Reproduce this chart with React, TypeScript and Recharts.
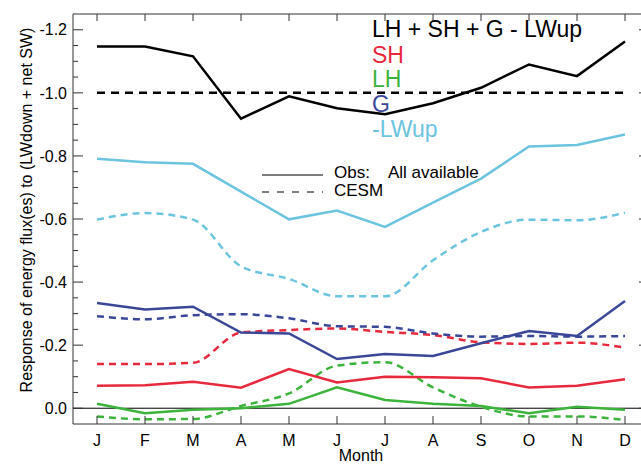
import React from 'react';
import { LineChart, Line, XAxis, YAxis, ReferenceLine, ReferenceArea } from 'recharts';

// month index 1..12, labels shown on the x axis
const monthIndex = [1, 2, 3, 4, 5, 6, 7, 8, 9, 10, 11, 12];
const monthLabels = ['J', 'F', 'M', 'A', 'M', 'J', 'J', 'A', 'S', 'O', 'N', 'D'];

// Obs: All available (solid)
const totalObs = [-1.147, -1.147, -1.116, -0.918, -0.989, -0.951, -0.932, -0.967, -1.016, -1.09, -1.053, -1.163];
const lwupObs = [-0.791, -0.78, -0.775, -0.687, -0.599, -0.627, -0.575, -0.652, -0.728, -0.83, -0.835, -0.868];
const gObs = [-0.334, -0.313, -0.322, -0.24, -0.237, -0.156, -0.172, -0.166, -0.206, -0.245, -0.229, -0.34];
const shObs = [-0.071, -0.073, -0.084, -0.065, -0.124, -0.082, -0.1, -0.098, -0.095, -0.066, -0.071, -0.092];
const lhObs = [-0.014, 0.016, 0.005, 0.0, -0.014, -0.066, -0.026, -0.014, -0.007, 0.016, -0.005, 0.005];

// CESM (dashed)
const totalCesm = [-1, -1, -1, -1, -1, -1, -1, -1, -1, -1, -1, -1];
const lwupCesm = [-0.598, -0.619, -0.598, -0.45, -0.41, -0.355, -0.355, -0.469, -0.559, -0.598, -0.596, -0.62];
const gCesm = [-0.292, -0.282, -0.295, -0.298, -0.285, -0.26, -0.258, -0.237, -0.227, -0.229, -0.227, -0.229];
const shCesm = [-0.14, -0.14, -0.144, -0.24, -0.248, -0.253, -0.242, -0.232, -0.209, -0.204, -0.208, -0.192];
const lhCesm = [0.026, 0.035, 0.034, -0.007, -0.047, -0.135, -0.146, -0.066, -0.005, 0.026, 0.026, 0.037];

const yMajorTicks = [-1.2, -1.0, -0.8, -0.6, -0.4, -0.2, 0.0];
const yMinorTicks = [-1.15, -1.1, -1.05, -0.95, -0.9, -0.85, -0.75, -0.7, -0.65, -0.55, -0.5, -0.45,
  -0.35, -0.3, -0.25, -0.15, -0.1, -0.05];
const yAllTicks = [...yMajorTicks, ...yMinorTicks].sort((a, b) => a - b);

const data = monthIndex.map((m, i) => ({
  m,
  totalObs: totalObs[i],
  lwupObs: lwupObs[i],
  gObs: gObs[i],
  shObs: shObs[i],
  lhObs: lhObs[i],
  totalCesm: totalCesm[i],
  lwupCesm: lwupCesm[i],
  gCesm: gCesm[i],
  shCesm: shCesm[i],
  lhCesm: lhCesm[i],
}));

const FONT = '"Liberation Sans", Arial, Helvetica, sans-serif';
const BLACK = '#000000';
const RED = '#e8283c';
const GREEN = '#3cb43c';
const NAVY = '#3a4799';
const CYAN = '#6cc4de';
const FRAME = '#333333';

const domain: [number, number] = [-1.25, 0.05];
const xDomain: [number, number] = [0.5, 12.5];

// plot box edges (from chart margins / axis sizes below)
const PLOT_TOP = 14;
const PLOT_RIGHT = 649;
const Y_TICK_MARGIN = 6;
const X_TICK_MARGIN = 11;

// y tick: label for majors, inward tick marks on both sides
const YTick = (props: any) => {
  const { x, y, payload } = props;
  const v = payload.value as number;
  const major = yMajorTicks.some((t) => Math.abs(t - v) < 1e-9);
  const left = x + Y_TICK_MARGIN;
  const len = major ? 10 : 5;
  return (
    <g>
      <line x1={left} x2={left + len} y1={y} y2={y} stroke={FRAME} strokeWidth={1} />
      <line x1={PLOT_RIGHT - len} x2={PLOT_RIGHT} y1={y} y2={y} stroke={FRAME} strokeWidth={1} />
      {major && (
        <text x={x} y={y} dy="0.355em" textAnchor="end" fontSize={16} fill="#000" fontFamily={FONT}>
          {v.toFixed(1)}
        </text>
      )}
    </g>
  );
};

// x tick: month letter plus inward marks on bottom and top
const XTick = (props: any) => {
  const { x, y, payload } = props;
  const bottom = y - X_TICK_MARGIN;
  return (
    <g>
      <line x1={x} x2={x} y1={bottom} y2={bottom - 8} stroke={FRAME} strokeWidth={1} />
      <line x1={x} x2={x} y1={PLOT_TOP} y2={PLOT_TOP + 7} stroke={FRAME} strokeWidth={1} />
      <text x={x} y={y} dy="0.71em" textAnchor="middle" fontSize={16} fill="#000" fontFamily={FONT}>
        {monthLabels[payload.value - 1]}
      </text>
    </g>
  );
};

export default function App() {
  return (
    <div style={{ position: 'absolute', left: 0, top: 0, width: 641, height: 464, overflow: 'hidden', background: '#fff' }}>
      <LineChart
        width={660}
        height={464}
        data={data}
        margin={{ top: PLOT_TOP, right: 660 - PLOT_RIGHT, bottom: 0, left: 0 }}
        style={{ fontFamily: FONT }}
      >
        <XAxis
          xAxisId="b"
          dataKey="m"
          type="number"
          domain={xDomain}
          ticks={monthIndex}
          height={40}
          tickLine={false}
          axisLine={false}
          tickSize={0}
          tickMargin={X_TICK_MARGIN}
          tick={<XTick />}
          interval={0}
        />
        <YAxis
          yAxisId="l"
          domain={domain}
          reversed
          ticks={yAllTicks}
          width={73}
          tickLine={false}
          axisLine={false}
          tickSize={0}
          tickMargin={Y_TICK_MARGIN}
          tick={<YTick />}
          interval={0}
        />

        {/* plot frame */}
        <ReferenceArea xAxisId="b" yAxisId="l" x1={xDomain[0]} x2={xDomain[1]} y1={domain[0]} y2={domain[1]}
          fill="none" fillOpacity={0} stroke={FRAME} strokeWidth={1} ifOverflow="visible" />
        <ReferenceLine xAxisId="b" yAxisId="l" y={0} stroke="#000" strokeWidth={1} />

        <Line xAxisId="b" yAxisId="l" type="monotone" dataKey="lhCesm" stroke={GREEN} strokeWidth={2.5} strokeDasharray="7 5" dot={false} isAnimationActive={false} />
        <Line xAxisId="b" yAxisId="l" type="monotone" dataKey="shCesm" stroke={RED} strokeWidth={2.5} strokeDasharray="7 5" dot={false} isAnimationActive={false} />
        <Line xAxisId="b" yAxisId="l" type="monotone" dataKey="gCesm" stroke={NAVY} strokeWidth={2.5} strokeDasharray="7 5" dot={false} isAnimationActive={false} />
        <Line xAxisId="b" yAxisId="l" type="monotone" dataKey="lwupCesm" stroke={CYAN} strokeWidth={2.5} strokeDasharray="7 5" dot={false} isAnimationActive={false} />
        <Line xAxisId="b" yAxisId="l" type="linear" dataKey="totalCesm" stroke={BLACK} strokeWidth={2.5} strokeDasharray="8 6" dot={false} isAnimationActive={false} />

        <Line xAxisId="b" yAxisId="l" type="linear" dataKey="lhObs" stroke={GREEN} strokeWidth={2.5} dot={false} isAnimationActive={false} />
        <Line xAxisId="b" yAxisId="l" type="linear" dataKey="shObs" stroke={RED} strokeWidth={2.5} dot={false} isAnimationActive={false} />
        <Line xAxisId="b" yAxisId="l" type="linear" dataKey="gObs" stroke={NAVY} strokeWidth={2.5} dot={false} isAnimationActive={false} />
        <Line xAxisId="b" yAxisId="l" type="linear" dataKey="lwupObs" stroke={CYAN} strokeWidth={2.5} dot={false} isAnimationActive={false} />
        <Line xAxisId="b" yAxisId="l" type="linear" dataKey="totalObs" stroke={BLACK} strokeWidth={2.5} dot={false} isAnimationActive={false} />

        {/* series legend */}
        <text x={372} y={37} fontSize={23} fill={BLACK} fontFamily={FONT}>LH + SH + G - LWup</text>
        <text x={372} y={63} fontSize={23} fill={RED} fontFamily={FONT}>SH</text>
        <text x={372} y={87} fontSize={23} fill={GREEN} fontFamily={FONT}>LH</text>
        <text x={372} y={112} fontSize={23} fill={NAVY} fontFamily={FONT}>G</text>
        <text x={372} y={137} fontSize={23} fill={CYAN} fontFamily={FONT}>-LWup</text>

        {/* line style legend */}
        <line x1={262} y1={175} x2={323} y2={175} stroke="#000" strokeWidth={1} />
        <line x1={262} y1={192} x2={323} y2={192} stroke="#000" strokeWidth={1} strokeDasharray="7 8" />
        <text x={334} y={178} fontSize={17} fill="#000" fontFamily={FONT}>Obs:</text>
        <text x={388} y={178} fontSize={17} fill="#000" fontFamily={FONT}>All available</text>
        <text x={334} y={196} fontSize={17} fill="#000" fontFamily={FONT}>CESM</text>

        {/* axis titles */}
        <text x={-210} y={32} transform="rotate(-90)" textAnchor="middle" fontSize={16} fill="#000" fontFamily={FONT}>
          Response of energy flux(es) to (LWdown + net SW)
        </text>
        <text x={361} y={461} textAnchor="middle" fontSize={16} fill="#000" fontFamily={FONT}>Month</text>
      </LineChart>
    </div>
  );
}
